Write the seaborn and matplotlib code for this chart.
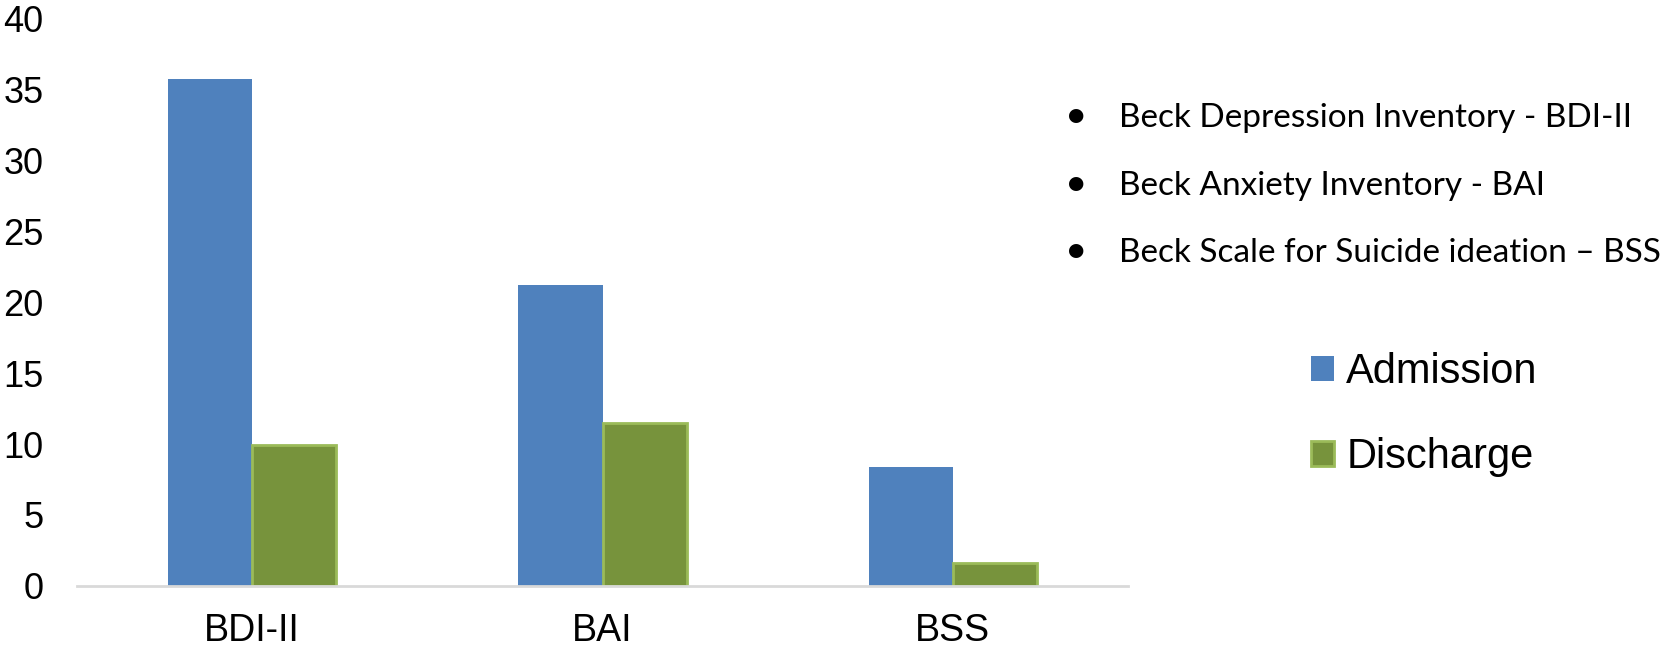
import matplotlib
matplotlib.use("Agg")
import matplotlib.pyplot as plt
import seaborn as sns
import pandas as pd

categories = ["BDI-II", "BAI", "BSS"]
admission = [35.8, 21.2, 8.4]
discharge = [9.95, 11.45, 1.6]
series_names = ["Admission", "Discharge"]
y_ticks = [0, 5, 10, 15, 20, 25, 30, 35, 40]
notes = ["Beck Depression Inventory - BDI-II",
         "Beck Anxiety Inventory - BAI",
         "Beck Scale for Suicide ideation \u2013 BSS"]

BLUE = "#4F81BD"
GREEN = "#77933C"
GREEN_EDGE = "#9BBB59"

df = pd.DataFrame({
    "Scale": categories * 2,
    "Score": admission + discharge,
    "Time": [series_names[0]] * 3 + [series_names[1]] * 3,
})

sns.set_theme(style="white")
plt.rcParams["font.family"] = ["Liberation Sans", "DejaVu Sans"]
plt.rcParams["text.color"] = "black"

W, H = 1668, 647
fig = plt.figure(figsize=(W / 100, H / 100), dpi=100)
ax = fig.add_axes([77 / W, 1 - 585.7 / H, (1128 - 77) / W, (585.7 - 19) / H])

sns.barplot(data=df, x="Scale", y="Score", hue="Time", order=categories,
            hue_order=series_names, palette=[BLUE, GREEN], width=0.48,
            gap=0, saturation=1, ax=ax, legend=False, errorbar=None)

for p in ax.patches:
    fc = matplotlib.colors.to_hex(p.get_facecolor())
    if fc.lower() == GREEN.lower():
        p.set_edgecolor(GREEN_EDGE)
        p.set_linewidth(2)
    else:
        p.set_edgecolor("none")
        p.set_linewidth(0)

ax.set_ylim(0, 40)
ax.set_xlim(-0.5, 2.5)
ax.set_yticks(y_ticks)
ax.set_yticklabels([str(t) for t in y_ticks], fontsize=26)
ax.tick_params(axis="y", length=0, pad=24, labelcolor="black")
ax.tick_params(axis="x", length=0, pad=20, labelsize=27, labelcolor="black")
ax.set_xlabel("")
ax.set_ylabel("")
for s in ["top", "right", "left"]:
    ax.spines[s].set_visible(False)
ax.spines["bottom"].set_color("#D9D9D9")
ax.spines["bottom"].set_linewidth(2)
ax.grid(False)

# Legend
from matplotlib.patches import Patch
handles = [Patch(facecolor=BLUE, edgecolor="none"),
           Patch(facecolor=GREEN, edgecolor=GREEN_EDGE, linewidth=2)]
leg = fig.legend(handles, series_names, loc="upper left",
                 bbox_to_anchor=(1311 / W, 1 - 352 / H), frameon=False,
                 fontsize=30, handlelength=0.55, handleheight=0.55,
                 handletextpad=0.3, labelspacing=1.08, borderpad=0,
                 borderaxespad=0, labelcolor="black")

# Bullet notes
bullet_font = ["Lato", "DejaVu Sans"]
baselines = [126.7, 195, 261.7]
for txt, b in zip(notes, baselines):
    fig.text(1076 / W, 1 - b / H, "\u2022", ha="center", va="baseline",
             fontsize=28, family=bullet_font, color="black")
    fig.text(1119 / W, 1 - b / H, txt, ha="left", va="baseline",
             fontsize=24, family=bullet_font, color="black")

fig.savefig("out.png", dpi=100, facecolor="white")
